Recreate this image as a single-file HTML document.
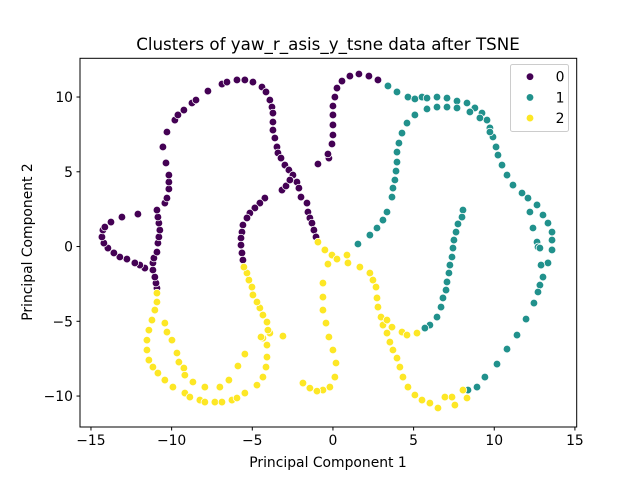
<!DOCTYPE html>
<html><head><meta charset="utf-8"><style>
body{margin:0;background:#fff}
svg text{font-family:"DejaVu Sans","Liberation Sans",sans-serif;fill:#000}
</style></head><body>
<svg id="chart" width="640" height="480" viewBox="0 0 640 480" xmlns="http://www.w3.org/2000/svg">
<rect width="640" height="480" fill="#fff"/>
<text x="328" y="50" font-size="16.7" text-anchor="middle">Clusters of yaw_r_asis_y_tsne data after TSNE</text>
<g id="points"></g>
<rect x="80" y="58.3" width="496.7" height="368.7" fill="none" stroke="#000" stroke-width="1"/>
<g id="xticks"></g>
<g id="yticks"></g>
<text x="328" y="467" font-size="13.9" text-anchor="middle">Principal Component 1</text>
<text x="32" y="242" font-size="13.9" text-anchor="middle" transform="rotate(-90 32 242)">Principal Component 2</text>
<g id="legend">
<rect x="510.5" y="64.5" width="58" height="67" rx="2" fill="#fff" fill-opacity="0.8" stroke="#ccc"/>
</g>
</svg>
<script>
const cluster0X=[-10.91,-10.97,-11.04,-11.16,-11.16,-11.10,-10.91,-10.85,-10.79,-10.73,-10.79,-10.85,-10.91,-10.42,-10.29,-10.17,-10.17,-10.17,-10.35,-10.54,-10.29,-9.80,-9.61,-9.24,-8.74,-8.49,-7.75,-6.88,-6.57,-5.95,-5.46,-4.96,-4.40,-4.15,-3.91,-3.78,-3.72,-3.72,-3.72,-3.60,-3.47,-3.41,-3.22,-2.98,-2.73,-2.48,-2.23,-2.11,-1.98,-1.61,-1.55,-1.43,-1.30,-1.18,-1.05,-3.16,-2.91,-2.67,-11.66,-11.97,-12.28,-12.77,-13.21,-13.58,-13.95,-14.20,-14.32,-14.26,-14.14,-13.76,-13.08,-12.09,-4.22,-4.53,-4.84,-5.15,-5.33,-5.58,-5.64,-5.70,-5.70,-5.64,-5.58,-0.93,-0.25,-0.31,-0.06,0,0,0,0,0.12,0.25,0.56,1.05,1.61,2.23,2.79];
const cluster0Y=[-2.78,-2.44,-2.04,-1.57,-1.10,-0.77,-0.37,0.23,0.64,1.10,1.57,1.97,2.44,2.91,3.24,3.85,4.31,4.78,5.59,6.66,7.66,8.46,8.80,9.13,9.60,9.80,10.40,10.87,11.00,11.14,11.14,11.00,10.67,10.34,9.80,9.33,8.93,8.33,7.79,7.26,6.66,6.26,5.92,5.45,5.12,4.78,4.31,3.91,3.31,2.91,2.31,1.91,1.57,1.10,0.64,3.78,4.05,4.45,-1.44,-1.24,-1.10,-0.84,-0.70,-0.43,-0.10,0.23,0.64,1.10,1.30,1.64,1.97,2.17,3.24,2.91,2.58,2.24,1.91,1.44,0.97,0.57,0.10,-0.43,-0.90,5.52,5.92,6.19,6.86,7.46,8.13,8.80,9.40,10.0,10.60,11.07,11.40,11.54,11.40,11.14];
const cluster1X=[3.41,3.97,4.65,5.08,5.52,5.83,6.45,7.07,7.69,8.31,8.80,9.24,9.55,9.73,9.92,10.11,10.23,10.48,10.79,11.16,11.72,12.09,12.65,13.02,13.33,13.58,13.58,13.58,5.83,6.45,7.07,7.69,8.49,9.11,9.73,12.21,12.40,12.65,12.71,12.83,13.33,12.90,13.02,12.83,12.71,12.46,11.97,11.41,10.79,10.17,9.42,8.93,8.37,5.08,4.59,4.28,4.09,3.97,3.97,3.91,3.84,3.72,3.66,3.35,3.10,2.73,2.29,1.55,8.06,8.00,7.75,7.63,7.50,7.44,7.38,7.25,7.19,7.07,7.01,6.82,6.70,6.45,6.01,5.70];
const cluster1Y=[10.74,10.34,10.0,9.87,10.0,9.93,10.0,9.93,9.73,9.60,9.27,8.93,8.46,7.93,7.33,6.66,6.12,5.45,4.78,4.11,3.58,3.24,2.78,2.11,1.57,0.97,0.43,-0.23,9.20,9.33,9.33,9.27,9.00,8.60,7.66,2.31,1.24,0.30,-0.03,-0.10,-1.10,-1.24,-2.04,-2.58,-3.04,-3.78,-4.85,-5.92,-6.86,-7.86,-8.73,-9.40,-9.60,8.80,8.26,7.59,6.92,6.32,5.65,5.05,4.45,3.91,3.31,2.31,1.77,1.24,0.77,0.17,2.44,1.97,1.51,0.97,0.43,-0.10,-0.70,-1.24,-1.77,-2.37,-2.91,-3.44,-4.05,-4.72,-5.25,-5.45];
const cluster2X=[-0.93,-0.50,-0.06,0.25,-0.31,0.87,0.93,1.67,2.29,2.48,2.67,2.73,2.79,2.98,3.10,3.35,3.53,3.72,3.97,4.15,4.34,4.65,5.08,5.52,6.01,6.51,6.94,7.38,7.56,8.06,8.31,3.35,3.66,4.28,4.59,5.21,-0.62,-0.62,-0.62,-0.43,-0.25,0,0.19,0.12,-0.19,-0.62,-0.99,-1.43,-1.86,-10.91,-10.91,-11.04,-11.22,-11.41,-11.53,-11.53,-11.41,-11.16,-10.85,-10.42,-9.92,-9.18,-8.87,-8.25,-7.94,-7.32,-6.88,-6.26,-5.95,-5.46,-4.71,-4.34,-4.15,-4.09,-4.09,-4.34,-4.46,-3.91,-4.03,-4.09,-4.34,-4.53,-4.71,-4.96,-5.02,-5.21,-5.33,-5.52,-3.10,-10.42,-10.29,-9.98,-9.67,-9.55,-9.24,-9.18,-8.68,-7.94,-7.01,-6.45,-5.89,-5.46];
const cluster2Y=[0.30,-0.23,-0.57,-0.84,-1.17,-0.57,-1.10,-1.37,-1.77,-2.24,-2.71,-3.44,-4.05,-4.72,-5.25,-5.79,-6.39,-6.92,-7.46,-8.06,-8.73,-9.40,-9.93,-10.27,-10.47,-10.80,-10.07,-10.07,-10.60,-9.60,-10.13,-4.92,-5.39,-5.72,-5.92,-5.79,-2.44,-3.38,-4.25,-5.12,-6.05,-6.92,-7.79,-8.73,-9.40,-9.60,-9.67,-9.47,-9.13,-3.11,-3.71,-4.25,-4.92,-5.59,-6.26,-6.92,-7.59,-8.06,-8.46,-8.93,-9.40,-9.80,-10.07,-10.27,-10.40,-10.40,-10.40,-10.27,-10.13,-9.80,-9.27,-8.73,-8.06,-7.39,-6.59,-6.12,-6.05,-5.79,-5.59,-5.05,-4.58,-4.11,-3.71,-3.24,-2.71,-2.24,-1.77,-1.37,-5.99,-5.12,-5.72,-6.26,-7.12,-7.73,-8.13,-8.60,-9.06,-9.40,-9.40,-8.93,-7.99,-7.19];
const clusterLabels=["0","1","2"];
const xTicks=[-15,-10,-5,0,5,10,15];
const yTicks=[-10,-5,0,5,10];

const NS="http://www.w3.org/2000/svg";
const X0=80,X1=576.7,Y0=58.3,Y1=427;
const XMIN=-15.68,XMAX=15.11,YMIN=-12.07,YMAX=12.59;
function sx(v){return X0+(v-XMIN)/(XMAX-XMIN)*(X1-X0);}
function sy(v){return Y1-(v-YMIN)/(YMAX-YMIN)*(Y1-Y0);}
const colors=["#440154","#21918c","#fde725"];
const series=[[cluster0X,cluster0Y],[cluster1X,cluster1Y],[cluster2X,cluster2Y]];
const pts=document.getElementById('points');
series.forEach((s,k)=>{
  const g=document.createElementNS(NS,'g');
  
  
  for(let i=0;i<s[0].length;i++){
    const c=document.createElementNS(NS,'circle');
    c.setAttribute('cx',sx(s[0][i]));c.setAttribute('cy',sy(s[1][i]));
    c.setAttribute('r',3.8);c.setAttribute('fill',colors[k]);
    c.setAttribute('stroke','#fff');c.setAttribute('stroke-width',0.75);
    
    
    g.appendChild(c);
  }
  pts.appendChild(g);
});
const xg=document.getElementById('xticks');
xTicks.forEach(t=>{
  const x=sx(t);
  const l=document.createElementNS(NS,'line');
  l.setAttribute('x1',x);l.setAttribute('x2',x);l.setAttribute('y1',Y1);l.setAttribute('y2',Y1+3.5);
  l.setAttribute('stroke','#000');
  
  
  xg.appendChild(l);
  const tx=document.createElementNS(NS,'text');
  tx.setAttribute('x',x);tx.setAttribute('y',Y1+18);tx.setAttribute('font-size','13.9');tx.setAttribute('text-anchor','middle');
  tx.textContent=(t<0?'\u2212'+(-t):t);
  
  
  xg.appendChild(tx);
});
const yg=document.getElementById('yticks');
yTicks.forEach(t=>{
  const y=sy(t);
  const l=document.createElementNS(NS,'line');
  l.setAttribute('x1',X0-3.5);l.setAttribute('x2',X0);l.setAttribute('y1',y);l.setAttribute('y2',y);
  l.setAttribute('stroke','#000');
  
  
  yg.appendChild(l);
  const tx=document.createElementNS(NS,'text');
  tx.setAttribute('x',X0-7);tx.setAttribute('y',y+5);tx.setAttribute('font-size','13.9');tx.setAttribute('text-anchor','end');
  tx.textContent=(t<0?'\u2212'+(-t):t);
  
  
  yg.appendChild(tx);
});
const lg=document.getElementById('legend');
clusterLabels.forEach((lab,k)=>{
  const y=76.7+k*20.7;
  const c=document.createElementNS(NS,'circle');
  c.setAttribute('cx',530);c.setAttribute('cy',y);c.setAttribute('r',3.8);c.setAttribute('fill',colors[k]);
  c.setAttribute('stroke','#fff');c.setAttribute('stroke-width',0.75);
  
  
  lg.appendChild(c);
  const t=document.createElementNS(NS,'text');
  t.setAttribute('x',560);t.setAttribute('y',y+5);t.setAttribute('font-size','13.9');t.setAttribute('text-anchor','middle');
  t.textContent=lab;
  
  
  lg.appendChild(t);
});
</script>
</body></html>
